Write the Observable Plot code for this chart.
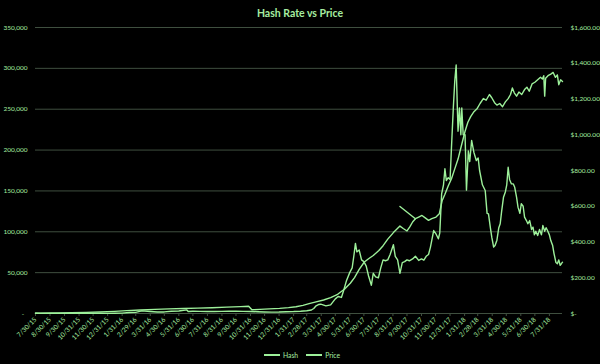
<!DOCTYPE html>
<html><head><meta charset="utf-8">
<script src="https://cdn.jsdelivr.net/npm/d3@7"></script>
<script src="https://cdn.jsdelivr.net/npm/@observablehq/plot@0.6"></script>
<style>
html,body{margin:0;padding:0;background:#000;}
body{width:600px;height:364px;overflow:hidden;font-family:Lato,"Open Sans",sans-serif;}
#title{height:24px;line-height:27px;text-align:center;color:#a6eda0;font-size:10.5px;font-weight:bold;}
#legend{height:18px;display:flex;justify-content:center;align-items:center;gap:8px;color:#a6eda0;font-size:6.8px;padding-left:4px;}
#legend .item{display:flex;align-items:center;gap:3px;}
#legend .sw{display:inline-block;width:16px;height:2px;background:#9df09a;}
</style></head>
<body>
<div id="title">Hash Rate vs Price</div>
<div id="chart"></div>
<div id="legend"><span class="item"><span class="sw"></span>Hash</span><span class="item"><span class="sw"></span>Price</span></div>
<script>
const xTickLabels = ["2015-07-30","2015-08-30","2015-09-30","2015-10-31","2015-11-30","2015-12-31","2016-01-31","2016-02-29","2016-03-31","2016-04-30","2016-05-31","2016-06-30","2016-07-31","2016-08-31","2016-09-30","2016-10-31","2016-11-30","2016-12-31","2017-01-31","2017-02-28","2017-03-31","2017-04-30","2017-05-31","2017-06-30","2017-07-31","2017-08-31","2017-09-30","2017-10-31","2017-11-30","2017-12-31","2018-01-31","2018-02-28","2018-03-31","2018-04-30","2018-05-31","2018-06-30","2018-07-31"];
const hashTicks = [0,50000,100000,150000,200000,250000,300000,350000];
const priceTicks = [0,200,400,600,800,1000,1200,1400,1600];

const hashSeries = [["2015-07-30",100],["2015-08-20",400],["2015-09-15",700],["2015-10-15",1000],["2015-11-15",1400],["2015-12-15",1900],["2016-01-15",2600],["2016-02-10",3500],["2016-03-10",4300],["2016-04-10",5000],["2016-05-10",5600],["2016-06-10",6200],["2016-07-10",6600],["2016-08-10",7100],["2016-09-10",7800],["2016-10-10",8400],["2016-10-27",8800],["2016-11-03",4500],["2016-11-20",5000],["2016-12-10",5600],["2017-01-01",6300],["2017-01-20",7200],["2017-02-05",8300],["2017-02-20",10000],["2017-03-05",12000],["2017-03-20",14200],["2017-04-05",16500],["2017-04-20",19500],["2017-05-05",23500],["2017-05-20",30000],["2017-06-01",37000],["2017-06-10",44000],["2017-06-20",54000],["2017-07-01",63000],["2017-07-10",67000],["2017-07-20",71000],["2017-08-01",77000],["2017-08-10",83000],["2017-08-20",91000],["2017-09-01",99000],["2017-09-08",103000],["2017-09-15",107000],["2017-09-22",104000],["2017-09-30",101000],["2017-10-06",106000],["2017-10-12",112000],["2017-10-18",116000],["2017-10-25",118000],["2017-11-01",120000],["2017-11-08",117000],["2017-11-15",114000],["2017-11-22",116000],["2017-12-01",118000],["2017-12-08",122000],["2017-12-14",138000],["2017-12-20",146000],["2017-12-27",156000],["2018-01-03",165000],["2018-01-10",177000],["2018-01-17",189000],["2018-01-24",205000],["2018-02-01",223000],["2018-02-07",234000],["2018-02-13",241000],["2018-02-20",247000],["2018-02-27",251000],["2018-03-05",257000],["2018-03-12",263000],["2018-03-18",261000],["2018-03-25",268000],["2018-03-30",264000],["2018-04-05",258000],["2018-04-10",255000],["2018-04-16",257000],["2018-04-22",253000],["2018-04-28",259000],["2018-05-04",263000],["2018-05-09",268000],["2018-05-13",276000],["2018-05-17",270000],["2018-05-22",266000],["2018-05-27",271000],["2018-06-02",268000],["2018-06-08",274000],["2018-06-13",277000],["2018-06-18",272000],["2018-06-24",281000],["2018-06-30",283000],["2018-07-06",286000],["2018-07-12",289000],["2018-07-16",287000],["2018-07-19",291000],["2018-07-21",266000],["2018-07-23",288000],["2018-07-28",291000],["2018-08-03",293000],["2018-08-08",295000],["2018-08-13",289000],["2018-08-17",292000],["2018-08-20",280000],["2018-08-24",286000],["2018-08-28",284000]];
const hashGlitch = [["2017-09-15",131000],["2017-10-18",116000]];

const priceSeries = [["2015-07-30",2.8],["2015-08-10",1.2],["2015-09-01",1.3],["2015-09-20",0.9],["2015-10-10",0.6],["2015-10-25",0.5],["2015-11-15",0.9],["2015-12-10",0.85],["2015-12-31",0.93],["2016-01-15",1.2],["2016-01-31",2.3],["2016-02-15",5.2],["2016-02-29",6.4],["2016-03-13",14.5],["2016-03-31",11.4],["2016-04-15",8.4],["2016-04-30",8.8],["2016-05-15",12.5],["2016-05-31",14],["2016-06-17",20],["2016-06-20",11.5],["2016-06-30",12.4],["2016-07-15",11.8],["2016-07-31",11.3],["2016-08-15",11.1],["2016-08-31",11.7],["2016-09-15",12.5],["2016-09-30",13.2],["2016-10-15",12.1],["2016-10-31",10.9],["2016-11-15",10],["2016-11-30",8.5],["2016-12-15",7.8],["2016-12-31",8],["2017-01-15",9.9],["2017-01-31",10.8],["2017-02-15",12.9],["2017-02-28",15.7],["2017-03-10",19.5],["2017-03-15",28],["2017-03-20",43],["2017-03-25",50],["2017-03-30",52],["2017-04-10",43],["2017-04-20",48],["2017-04-30",82],["2017-05-06",95],["2017-05-13",90],["2017-05-18",130],["2017-05-24",185],["2017-05-31",230],["2017-06-05",255],["2017-06-09",330],["2017-06-12",392],["2017-06-15",345],["2017-06-20",355],["2017-06-25",300],["2017-06-30",290],["2017-07-05",265],["2017-07-10",210],["2017-07-16",158],["2017-07-20",225],["2017-07-25",205],["2017-07-31",200],["2017-08-05",255],["2017-08-10",300],["2017-08-15",295],["2017-08-20",300],["2017-08-25",330],["2017-09-01",385],["2017-09-05",320],["2017-09-10",300],["2017-09-15",225],["2017-09-20",285],["2017-09-25",290],["2017-09-30",300],["2017-10-05",295],["2017-10-12",305],["2017-10-18",320],["2017-10-25",297],["2017-10-31",305],["2017-11-05",298],["2017-11-10",320],["2017-11-15",330],["2017-11-19",370],["2017-11-26",464],["2017-12-01",445],["2017-12-06",418],["2017-12-09",450],["2017-12-13",670],["2017-12-17",720],["2017-12-20",810],["2017-12-23",744],["2017-12-27",760],["2017-12-31",750],["2018-01-03",930],["2018-01-07",1154],["2018-01-10",1300],["2018-01-13",1390],["2018-01-15",1200],["2018-01-17",1020],["2018-01-20",1150],["2018-01-23",1000],["2018-01-25",1150],["2018-01-28",1000],["2018-02-01",1000],["2018-02-04",690],["2018-02-08",910],["2018-02-11",850],["2018-02-15",968],["2018-02-20",900],["2018-02-25",856],["2018-03-01",870],["2018-03-04",800],["2018-03-10",720],["2018-03-16",688],["2018-03-20",560],["2018-03-23",557],["2018-03-27",480],["2018-03-30",427],["2018-04-03",372],["2018-04-06",380],["2018-04-10",410],["2018-04-14",480],["2018-04-17",502],["2018-04-20",570],["2018-04-24",650],["2018-04-28",680],["2018-05-01",720],["2018-05-04",818],["2018-05-07",750],["2018-05-11",725],["2018-05-15",725],["2018-05-18",706],["2018-05-22",650],["2018-05-25",595],["2018-05-29",560],["2018-06-01",614],["2018-06-05",600],["2018-06-08",539],["2018-06-12",520],["2018-06-15",502],["2018-06-19",520],["2018-06-23",470],["2018-06-26",483],["2018-06-29",440],["2018-07-02",460],["2018-07-06",436],["2018-07-10",470],["2018-07-14",440],["2018-07-17",492],["2018-07-21",460],["2018-07-24",480],["2018-07-27",464],["2018-07-31",440],["2018-08-03",408],["2018-08-07",380],["2018-08-10",334],["2018-08-14",285],["2018-08-17",278],["2018-08-20",300],["2018-08-23",270],["2018-08-26",280],["2018-08-28",287]];

const lineColor = "#9df09a", textColor = "#a6eda0", gridColor = "#3f4f3f";
const k = 350000 / 1600;
const toRows = s => s.map(([d, v]) => ({date: new Date(d), value: v}));
const hashRows = toRows(hashSeries), priceRows = toRows(priceSeries), glitchRows = toRows(hashGlitch);
const fmtDate = d => `${d.getUTCMonth()+1}/${d.getUTCDate()}/${String(d.getUTCFullYear()).slice(2)}`;
const fmtHash = v => v === 0 ? "-\u2002" : d3.format(",")(v);
const fmtPrice = v => { const p = Math.round(v / k); return p === 0 ? "$-" : "$" + d3.format(",.2f")(p); };

const chart = Plot.plot({
  width: 600, height: 322,
  marginTop: 3, marginBottom: 33, marginLeft: 35, marginRight: 38,
  style: {background: "#000", color: textColor, fontFamily: "Lato, 'Open Sans', sans-serif", fontSize: "6.5px", overflow: "visible"},
  x: {type: "utc", domain: [new Date("2015-07-30"), new Date("2018-08-28")]},
  y: {domain: [0, 350000]},
  marks: [
    Plot.gridY(hashTicks, {stroke: gridColor, strokeOpacity: 1}),
    Plot.axisX({ticks: xTickLabels.map(d => new Date(d)), tickFormat: fmtDate, tickRotate: -45, tickSize: 3, tickPadding: 2, stroke: gridColor, fill: textColor, label: null}),
    Plot.ruleY([0], {stroke: gridColor}),
    Plot.axisY({anchor: "left", ticks: hashTicks, tickFormat: fmtHash, tickSize: 0, tickPadding: 8, fill: textColor, label: null}),
    Plot.axisY({anchor: "right", ticks: priceTicks.map(p => p * k), tickFormat: fmtPrice, tickSize: 0, tickPadding: 8, fill: textColor, label: null}),
    Plot.lineY(hashRows, {x: "date", y: "value", stroke: lineColor, strokeWidth: 1.4}),
    Plot.lineY(glitchRows, {x: "date", y: "value", stroke: lineColor, strokeWidth: 1.4}),
    Plot.lineY(priceRows, {x: "date", y: d => d.value * k, stroke: lineColor, strokeWidth: 1.4})
  ]
});
document.getElementById("chart").appendChild(chart);
</script>
</body></html>
